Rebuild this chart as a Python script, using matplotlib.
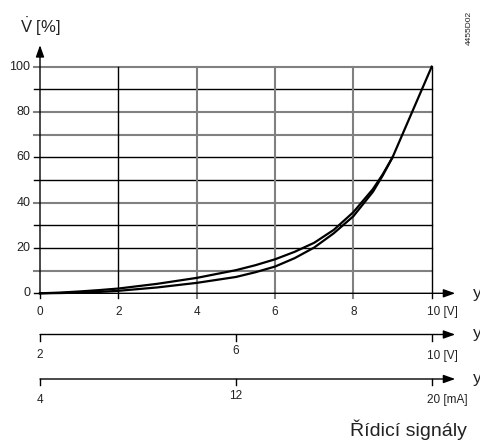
import matplotlib
matplotlib.use("Agg")
import matplotlib.pyplot as plt
from matplotlib.transforms import blended_transform_factory

plt.rcParams["font.family"] = ["Liberation Sans", "DejaVu Sans"]
plt.rcParams["mathtext.fontset"] = "custom"
plt.rcParams["mathtext.rm"] = "Liberation Sans"

# characteristic curves, control signal Y [V] -> flow V [%]
y_upper = [0, 0.5, 1, 1.5, 2, 3, 4, 5, 5.5, 6, 6.5, 7, 7.5, 8, 8.5, 8.75, 9, 9.25, 9.5, 9.75, 10]
v_upper = [0, 0.3, 0.8, 1.4, 2.1, 4.2, 6.8, 10.2, 12.4, 15.0, 18.3, 22.3, 28.0, 35.8, 46, 52.5, 60, 70, 80, 90, 100]
y_lower = [0, 0.5, 1, 1.5, 2, 3, 4, 5, 5.5, 6, 6.5, 7, 7.5, 8, 8.5, 8.75, 9]
v_lower = [0, 0.1, 0.3, 0.6, 1.1, 2.6, 4.6, 7.2, 9.3, 11.8, 15.5, 20.2, 26.5, 34.0, 44.8, 52, 60]

x_ticks = [0, 2, 4, 6, 8]
v_ticks = [0, 20, 40, 60, 80, 100]
gray_h = [10, 40, 70, 80, 100]
black_h = [20, 30, 50, 60, 90]
gray_v = [4, 6, 8]
black_v = [2, 10]

scale1_end = "10 [V]"
scale2 = [2, 6, 10]
scale3 = [4, 12, 20]

GRAY = "#808080"
TXT = "#222222"

fig = plt.figure(figsize=(4.81, 4.42), dpi=100)
L, W = 40 / 481, 391.7 / 481
ax = fig.add_axes([L, 148.7 / 442, W, 226.6 / 442])
ax.set_xlim(0, 10)
ax.set_ylim(0, 100)
ax.axis("off")

for v in gray_h:
    ax.plot([-0.15, 10], [v, v], color=GRAY, lw=1.5, clip_on=False, zorder=1)
for v in black_h:
    ax.plot([-0.15, 10], [v, v], color="black", lw=1.0, clip_on=False, zorder=1)
for x in gray_v:
    ax.plot([x, x], [-2.2, 100], color=GRAY, lw=1.5, clip_on=False, zorder=1)
for x in black_v:
    ax.plot([x, x], [-2.2, 100], color="black", lw=1.0, clip_on=False, zorder=1)
ax.plot([0, 0], [-2.2, 0], color="black", lw=1.0, clip_on=False)
ax.plot([-0.15, 0], [0, 0], color="black", lw=1.0, clip_on=False)

arrow = dict(arrowstyle="-|>,head_length=0.7,head_width=0.25", color="black", lw=1.0,
             shrinkA=0, shrinkB=0)
ax.annotate("", xy=(0, 109.5), xytext=(0, 0), arrowprops=arrow, annotation_clip=False)
ax.annotate("", xy=(10.6, 0), xytext=(0, 0), arrowprops=arrow, annotation_clip=False)

ax.plot(y_upper, v_upper, color="black", lw=1.6, zorder=3, clip_on=False)
ax.plot(y_lower, v_lower, color="black", lw=1.6, zorder=3, clip_on=False)

for v in v_ticks:
    ax.text(-0.25, v, str(v), ha="right", va="center", fontsize=9, color=TXT)
for x in x_ticks:
    ax.text(x, -5.5, str(x), ha="center", va="top", fontsize=8.5, color=TXT)
ax.text(9.87, -5.5, scale1_end, ha="left", va="top", fontsize=8.5, color=TXT)
ax.text(11.05, 0, "y", ha="left", va="center", fontsize=12.5, color=TXT)
ax.text(-0.5, 117.5, r"$\dot{\mathrm{V}}$ [%]", ha="left", va="center",
        fontsize=12, color=TXT)


def scale_axis(ypix, ticks, unit):
    a = fig.add_axes([L, (442 - ypix) / 442, W, 0.001])
    a.set_xlim(ticks[0], ticks[-1])
    a.set_ylim(0, 1)
    a.axis("off")
    span = ticks[-1] - ticks[0]
    a.annotate("", xy=(ticks[-1] + 0.06 * span, 0), xytext=(ticks[0], 0),
               arrowprops=arrow, annotation_clip=False)
    tr = blended_transform_factory(a.transData, fig.transFigure)
    top = (442 - ypix) / 442
    for i, t in enumerate(ticks):
        a.plot([t, t], [top, top - 6 / 442], color="black", lw=1.0,
               transform=tr, clip_on=False)
        if i == len(ticks) - 1:
            a.text(t - 0.013 * span, top - 15 / 442, f"{t} {unit}", ha="left", va="top",
                   fontsize=8.5, color=TXT, transform=tr)
        else:
            dy = 15 if i == 0 else 11
            a.text(t, top - dy / 442, str(t), ha="center", va="top",
                   fontsize=8.5, color=TXT, transform=tr)
    a.text(ticks[-1] + 0.105 * span, top + 1 / 442, "y", ha="left", va="center",
           fontsize=12.5, color=TXT, transform=tr)


scale_axis(334.5, scale2, "[V]")
scale_axis(379, scale3, "[mA]")

fig.text(467 / 481, 1 - 430 / 442, "Řídicí signály", ha="right", va="center",
         fontsize=14, color=TXT)
fig.text(469 / 481, 1 - 28 / 442, "4455D02", ha="center", va="center",
         rotation=90, fontsize=6, color=TXT)

fig.savefig("out.png", dpi=100)
